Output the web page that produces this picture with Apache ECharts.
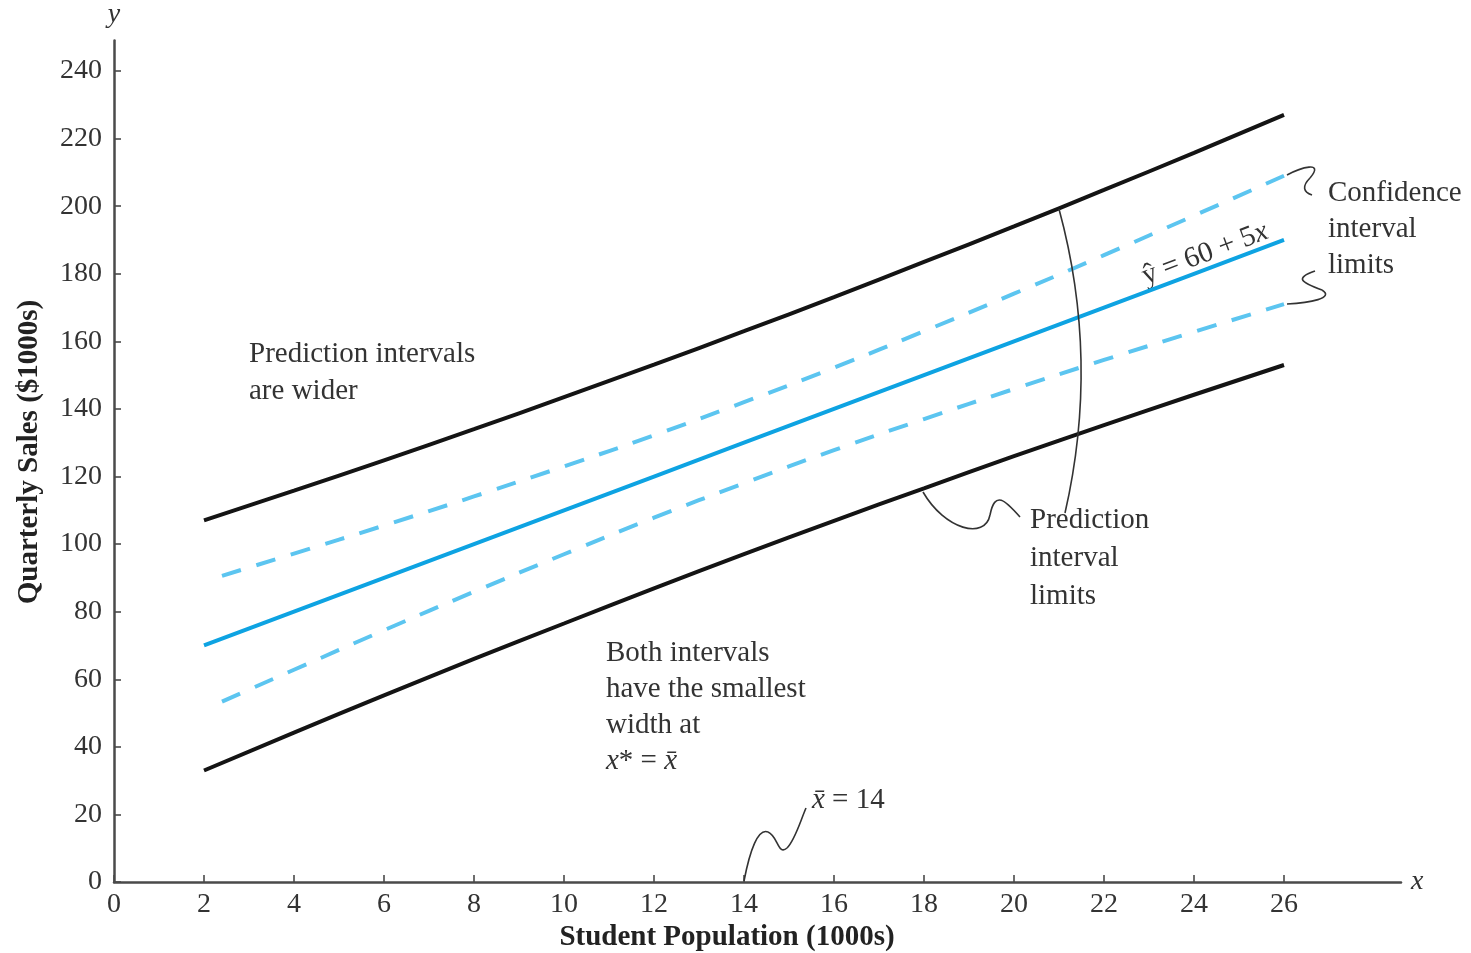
<!DOCTYPE html>
<html>
<head>
<meta charset="utf-8">
<script src="https://cdn.jsdelivr.net/npm/echarts@6/dist/echarts.min.js"></script>
<style>html,body{margin:0;padding:0;background:#fff}#c{width:1471px;height:953px}</style>
</head>
<body>
<div id="c"></div>
<script>
// ---- data ----
const xTicks = [0, 2, 4, 6, 8, 10, 12, 14, 16, 18, 20, 22, 24, 26];
const yTicks = [0, 20, 40, 60, 80, 100, 120, 140, 160, 180, 200, 220, 240];

const xLine = [2, 4, 6, 8, 10, 12, 14, 16, 18, 20, 22, 24, 26];
const regression = [70, 80, 90, 100, 110, 120, 130, 140, 150, 160, 170, 180, 190];
const predUpper = [107.0, 115.8, 124.8, 134.0, 143.5, 153.1, 163.0, 173.1, 183.5, 194.0, 204.8, 215.8, 227.0];
const predLower = [33.0, 44.2, 55.2, 66.0, 76.5, 86.9, 97.0, 106.9, 116.5, 126.0, 135.2, 144.2, 153.0];

const xConf = [2.4, 4, 6, 8, 10, 12, 14, 16, 18, 20, 22, 24, 26];
const confUpper = [90.6, 97.2, 105.5, 114.1, 123.0, 132.2, 142.0, 152.2, 163.0, 174.1, 185.5, 197.2, 209.0];
const confLower = [53.4, 62.8, 74.5, 85.9, 97.0, 107.8, 118.0, 127.8, 137.0, 145.9, 154.5, 162.8, 171.0];

const zip = (xs, ys) => xs.map((x, i) => [x, ys[i]]);

const SERIF = '"Liberation Serif", "DejaVu Serif", serif';
const TXT = '#333';
const AX = '#4a4a4a';

const chart = echarts.init(document.getElementById('c'), null, { renderer: 'canvas' });

const option = {
  backgroundColor: '#fff',
  animation: false,
  grid: { left: 114, right: 70, top: 40.6, bottom: 71, containLabel: false, outerBoundsMode: 'none' },
  xAxis: {
    type: 'value', min: 0, max: 28.6,
    name: 'x', nameLocation: 'end', nameGap: 10,
    nameTextStyle: { fontFamily: SERIF, fontStyle: 'italic', fontSize: 28, color: TXT, verticalAlign: 'middle' },
    axisLine: { show: true, onZero: false, lineStyle: { color: AX, width: 2.5 } },
    axisTick: { show: true, inside: true, length: 7, customValues: xTicks, lineStyle: { color: AX, width: 1.6 } },
    axisLabel: { customValues: xTicks, margin: 9, fontFamily: SERIF, fontSize: 28, color: TXT, showMinLabel: true, showMaxLabel: true },
    splitLine: { show: false }
  },
  yAxis: {
    type: 'value', min: 0, max: 249,
    name: 'y', nameLocation: 'end', nameGap: 12,
    nameTextStyle: { fontFamily: SERIF, fontStyle: 'italic', fontSize: 28, color: TXT, align: 'center' },
    axisLine: { show: true, onZero: false, lineStyle: { color: AX, width: 2.5 } },
    axisTick: { show: true, inside: true, length: 7, customValues: yTicks, lineStyle: { color: AX, width: 1.6 } },
    axisLabel: { customValues: yTicks, margin: 12, fontFamily: SERIF, fontSize: 28, color: TXT, showMinLabel: true, showMaxLabel: true },
    splitLine: { show: false }
  },
  series: [
    { name: 'Prediction upper', type: 'line', data: zip(xLine, predUpper), smooth: true, symbol: 'none',
      lineStyle: { color: '#141414', width: 4 }, z: 3 },
    { name: 'Prediction lower', type: 'line', data: zip(xLine, predLower), smooth: true, symbol: 'none',
      lineStyle: { color: '#141414', width: 4 }, z: 3 },
    { name: 'Confidence upper', type: 'line', data: zip(xConf, confUpper), smooth: true, symbol: 'none',
      lineStyle: { color: '#5cc5f0', width: 4, type: [20, 16] }, z: 3 },
    { name: 'Confidence lower', type: 'line', data: zip(xConf, confLower), smooth: true, symbol: 'none',
      lineStyle: { color: '#5cc5f0', width: 4, type: [20, 16] }, z: 3 },
    { name: 'Regression', type: 'line', data: zip(xLine, regression), symbol: 'none',
      lineStyle: { color: '#0ea3e2', width: 4 }, z: 4 }
  ]
};
chart.setOption(option);

// ---- annotations ----
const baseText = { fontFamily: SERIF, fontSize: 29, fill: TXT, lineHeight: 37 };
const italic = { i: { fontFamily: SERIF, fontSize: 29, fontStyle: 'italic', fill: TXT } };
const lineStyle = { fill: null, stroke: '#333', lineWidth: 1.6 };
// cubic bezier segment
const cub = (x1, y1, c1x, c1y, c2x, c2y, x2, y2) => ({
  type: 'bezierCurve', silent: true, z: 10,
  shape: { x1: x1, y1: y1, cpx1: c1x, cpy1: c1y, cpx2: c2x, cpy2: c2y, x2: x2, y2: y2 },
  style: lineStyle
});
// quadratic bezier segment
const quad = (x1, y1, cx, cy, x2, y2) => ({
  type: 'bezierCurve', silent: true, z: 10,
  shape: { x1: x1, y1: y1, cpx1: cx, cpy1: cy, x2: x2, y2: y2 },
  style: lineStyle
});

chart.setOption({
  graphic: [
    // axis titles
    { type: 'text', x: 727, y: 938, style: Object.assign({}, baseText, {
        text: 'Student Population (1000s)', fontWeight: 'bold', fill: '#222', align: 'center', verticalAlign: 'middle' }) },
    { type: 'text', x: 30, y: 452, rotation: Math.PI / 2, style: Object.assign({}, baseText, {
        text: 'Quarterly Sales ($1000s)', fontWeight: 'bold', fill: '#222', align: 'center', verticalAlign: 'middle' }) },

    // text notes
    { type: 'text', x: 249, y: 336, style: Object.assign({}, baseText, { text: 'Prediction intervals\nare wider' }) },
    { type: 'text', x: 606, y: 635, style: Object.assign({}, baseText, {
        text: 'Both intervals\nhave the smallest\nwidth at\n{i|x}* = {i|x̄}', lineHeight: 36, rich: italic }) },
    { type: 'text', x: 812, y: 800, style: Object.assign({}, baseText, {
        text: '{i|x̄} = 14', verticalAlign: 'middle', rich: italic }) },
    { type: 'text', x: 1030, y: 501, style: Object.assign({}, baseText, { text: 'Prediction\ninterval\nlimits', lineHeight: 38 }) },
    { type: 'text', x: 1328, y: 175, style: Object.assign({}, baseText, { text: 'Confidence\ninterval\nlimits', lineHeight: 36 }) },
    { type: 'text', x: 1205, y: 254, rotation: 0.36, style: Object.assign({}, baseText, {
        text: 'ŷ = 60 + 5{i|x}', align: 'center', verticalAlign: 'middle', rich: italic }) },

    // connectors: x-bar squiggle
    cub(744, 881, 750, 850, 758, 828, 768, 832),
    cub(768, 832, 778, 836, 778, 856, 787, 848),
    cub(787, 848, 795, 840, 800, 822, 806, 808),
    // arc across prediction limits
    quad(1059, 209, 1100, 360, 1065, 513),
    // squiggle from lower prediction limit
    cub(923, 492, 945, 530, 985, 540, 990, 515),
    cub(990, 515, 995, 490, 1005, 500, 1020, 517),
    // confidence squiggles
    cub(1287, 175, 1300, 168, 1325, 160, 1310, 178),
    cub(1310, 178, 1302, 186, 1303, 192, 1312, 195),
    cub(1287, 304, 1310, 303, 1335, 298, 1322, 290),
    cub(1322, 290, 1300, 282, 1295, 278, 1315, 271)
  ]
});
</script>
</body>
</html>
